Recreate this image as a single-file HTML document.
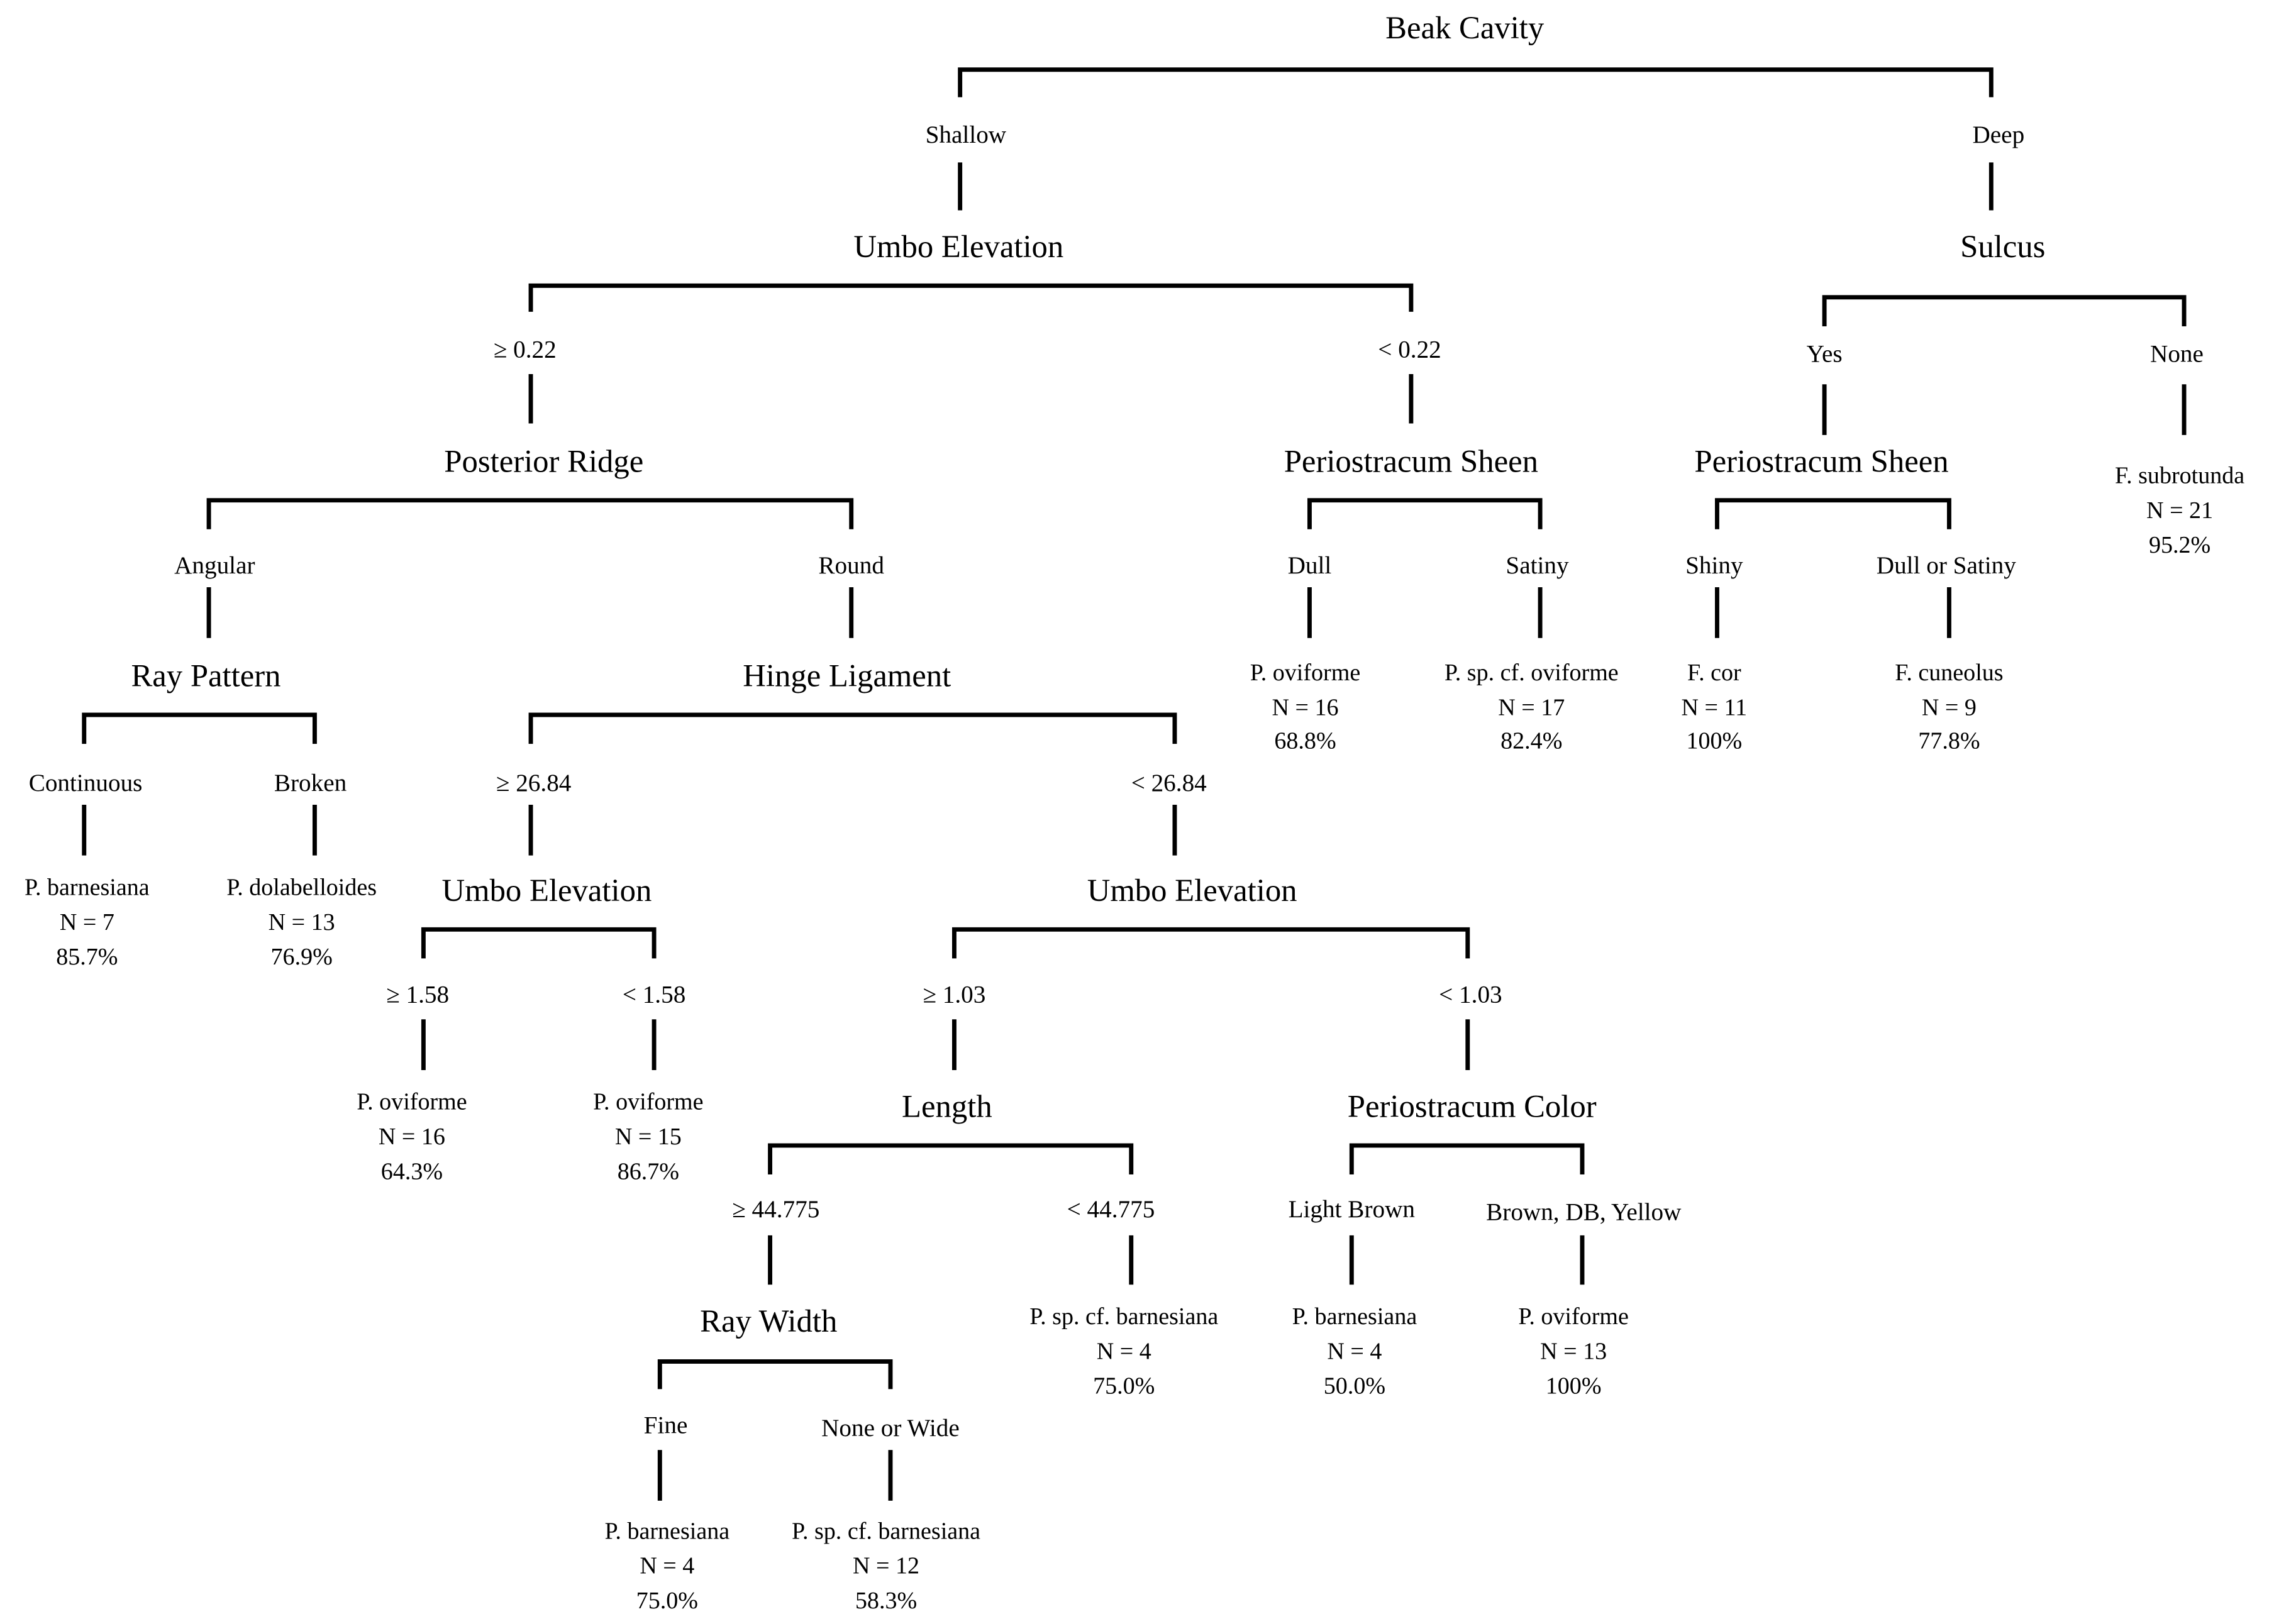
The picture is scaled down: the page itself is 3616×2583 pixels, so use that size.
<!DOCTYPE html>
<html><head><meta charset="utf-8"><style>
html,body{margin:0;padding:0;background:#fff;}
svg{display:block;}
text{font-family:"Liberation Serif",serif;fill:#000;text-anchor:middle;dominant-baseline:central;}
.h{font-size:22px;}
.l{font-size:17px;}
.f{font-size:16.5px;}
</style></head><body>
<svg width="3616" height="2583" viewBox="0 0 1568 1120" xmlns="http://www.w3.org/2000/svg">
<g fill="none" stroke="#000" stroke-width="3">
<path d="M662 67V48H1373V67"/>
<path d="M662 112V145M1373 112V145"/>
<path d="M366 215V197H973V215"/>
<path d="M366 258V292M973 258V292"/>
<path d="M1258 225V205H1506V225"/>
<path d="M1258 265V300M1506 265V300"/>
<path d="M144 365V345H587V365"/>
<path d="M144 405V440M587 405V440"/>
<path d="M903 365V345H1062V365"/>
<path d="M903 405V440M1062 405V440"/>
<path d="M1184 365V345H1344V365"/>
<path d="M1184 405V440M1344 405V440"/>
<path d="M58 513V493H217V513"/>
<path d="M58 555V590M217 555V590"/>
<path d="M366 513V493H810V513"/>
<path d="M366 555V590M810 555V590"/>
<path d="M292 661V641H451V661"/>
<path d="M292 703V738M451 703V738"/>
<path d="M658 661V641H1012V661"/>
<path d="M658 703V738M1012 703V738"/>
<path d="M531 810V790H780V810"/>
<path d="M531 852V886M780 852V886"/>
<path d="M932 810V790H1091V810"/>
<path d="M932 852V886M1091 852V886"/>
<path d="M455 958V939H614V958"/>
<path d="M455 1000V1035M614 1000V1035"/>
</g>
<text class="h" x="1010" y="19">Beak Cavity</text>
<text class="l" x="666" y="93">Shallow</text>
<text class="l" x="1378" y="93">Deep</text>
<text class="h" x="661" y="170">Umbo Elevation</text>
<text class="h" x="1381" y="170">Sulcus</text>
<text class="l" x="362" y="241">≥ 0.22</text>
<text class="l" x="972" y="241">&lt; 0.22</text>
<text class="l" x="1258" y="244">Yes</text>
<text class="l" x="1501" y="244">None</text>
<text class="h" x="375" y="318">Posterior Ridge</text>
<text class="h" x="973" y="318">Periostracum Sheen</text>
<text class="h" x="1256" y="318">Periostracum Sheen</text>
<text class="f" x="1503" y="328">F. subrotunda</text>
<text class="f" x="1503" y="352">N = 21</text>
<text class="f" x="1503" y="376">95.2%</text>
<text class="l" x="148" y="390">Angular</text>
<text class="l" x="587" y="390">Round</text>
<text class="l" x="903" y="390">Dull</text>
<text class="l" x="1060" y="390">Satiny</text>
<text class="l" x="1182" y="390">Shiny</text>
<text class="l" x="1342" y="390">Dull or Satiny</text>
<text class="f" x="900" y="464">P. oviforme</text>
<text class="f" x="900" y="488">N = 16</text>
<text class="f" x="900" y="511">68.8%</text>
<text class="f" x="1056" y="464">P. sp. cf. oviforme</text>
<text class="f" x="1056" y="488">N = 17</text>
<text class="f" x="1056" y="511">82.4%</text>
<text class="f" x="1182" y="464">F. cor</text>
<text class="f" x="1182" y="488">N = 11</text>
<text class="f" x="1182" y="511">100%</text>
<text class="f" x="1344" y="464">F. cuneolus</text>
<text class="f" x="1344" y="488">N = 9</text>
<text class="f" x="1344" y="511">77.8%</text>
<text class="h" x="142" y="466">Ray Pattern</text>
<text class="h" x="584" y="466">Hinge Ligament</text>
<text class="l" x="59" y="540">Continuous</text>
<text class="l" x="214" y="540">Broken</text>
<text class="l" x="368" y="540">≥ 26.84</text>
<text class="l" x="806" y="540">&lt; 26.84</text>
<text class="f" x="60" y="612">P. barnesiana</text>
<text class="f" x="60" y="636">N = 7</text>
<text class="f" x="60" y="660">85.7%</text>
<text class="f" x="208" y="612">P. dolabelloides</text>
<text class="f" x="208" y="636">N = 13</text>
<text class="f" x="208" y="660">76.9%</text>
<text class="h" x="377" y="614">Umbo Elevation</text>
<text class="h" x="822" y="614">Umbo Elevation</text>
<text class="l" x="288" y="686">≥ 1.58</text>
<text class="l" x="451" y="686">&lt; 1.58</text>
<text class="l" x="658" y="686">≥ 1.03</text>
<text class="l" x="1014" y="686">&lt; 1.03</text>
<text class="f" x="284" y="760">P. oviforme</text>
<text class="f" x="284" y="784">N = 16</text>
<text class="f" x="284" y="808">64.3%</text>
<text class="f" x="447" y="760">P. oviforme</text>
<text class="f" x="447" y="784">N = 15</text>
<text class="f" x="447" y="808">86.7%</text>
<text class="h" x="653" y="763">Length</text>
<text class="h" x="1015" y="763">Periostracum Color</text>
<text class="l" x="535" y="834">≥ 44.775</text>
<text class="l" x="766" y="834">&lt;  44.775</text>
<text class="l" x="932" y="834">Light Brown</text>
<text class="l" x="1092" y="836">Brown, DB, Yellow</text>
<text class="h" x="530" y="911">Ray Width</text>
<text class="f" x="775" y="908">P. sp. cf. barnesiana</text>
<text class="f" x="775" y="932">N = 4</text>
<text class="f" x="775" y="956">75.0%</text>
<text class="f" x="934" y="908">P. barnesiana</text>
<text class="f" x="934" y="932">N = 4</text>
<text class="f" x="934" y="956">50.0%</text>
<text class="f" x="1085" y="908">P. oviforme</text>
<text class="f" x="1085" y="932">N = 13</text>
<text class="f" x="1085" y="956">100%</text>
<text class="l" x="459" y="983">Fine</text>
<text class="l" x="614" y="985">None or Wide</text>
<text class="f" x="460" y="1056">P. barnesiana</text>
<text class="f" x="460" y="1080">N = 4</text>
<text class="f" x="460" y="1104">75.0%</text>
<text class="f" x="611" y="1056">P. sp. cf. barnesiana</text>
<text class="f" x="611" y="1080">N = 12</text>
<text class="f" x="611" y="1104">58.3%</text>
</svg>
</body></html>
